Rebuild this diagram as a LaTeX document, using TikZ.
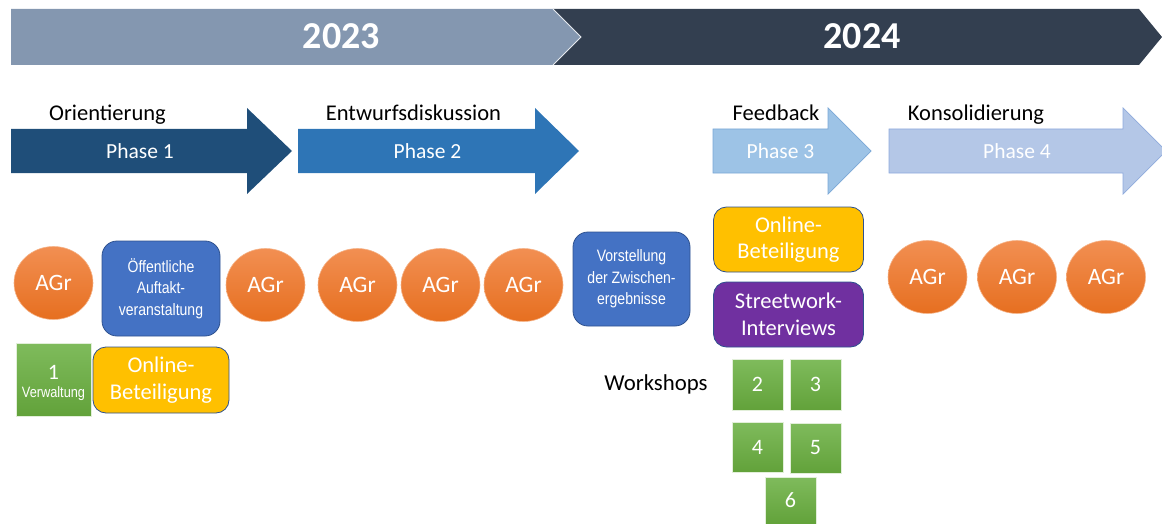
\documentclass[tikz,border=0pt]{standalone}
\usepackage{fontspec}
\setmainfont{Carlito}
\newfontfamily\narrowfont[FakeStretch=0.85]{Liberation Sans}
\usetikzlibrary{shapes.geometric}
\definecolor{banA}{HTML}{8497B0}
\definecolor{banB}{HTML}{333F50}
\definecolor{phA}{HTML}{1F4E79}
\definecolor{phB}{HTML}{2E75B6}
\definecolor{phC}{HTML}{9DC3E6}
\definecolor{phCedge}{HTML}{7AA7D6}
\definecolor{phD}{HTML}{B4C7E7}
\definecolor{phDedge}{HTML}{8FAADC}
\definecolor{agrTop}{HTML}{F28F52}
\definecolor{agrBot}{HTML}{E66F20}
\definecolor{agrEdge}{HTML}{F5B48A}
\definecolor{boxBlue}{HTML}{4472C4}
\definecolor{boxEdge}{HTML}{2F528F}
\definecolor{boxYel}{HTML}{FFC000}
\definecolor{boxPur}{HTML}{7030A0}
\definecolor{sqTop}{HTML}{7FBB5C}
\definecolor{sqBot}{HTML}{62A23A}
\definecolor{sqEdge}{HTML}{E2EFD9}
\begin{document}
\begin{tikzpicture}[x=1pt,y=-1pt,
  yeartext/.style={text=white, font=\bfseries\fontsize{38}{38}\selectfont, anchor=base, inner sep=0pt},
  phlabel/.style={text=black, font=\fontsize{22.5}{22.5}\selectfont, anchor=base, inner sep=0pt},
  phtext/.style={text=white, font=\fontsize{21.5}{21.5}\selectfont, anchor=base, inner sep=0pt},
  agr/.style={ellipse, draw=agrEdge, line width=0.6pt, top color=agrTop, bottom color=agrBot,
    minimum width=79pt, minimum height=73pt, inner sep=0pt, text=white,
    font=\fontsize{23.5}{23.5}\selectfont},
  rbox/.style={rectangle, rounded corners=13pt, draw=boxEdge, line width=0.8pt, inner sep=0pt, align=center},
  bluebox/.style={rbox, fill=boxBlue, text=white, font=\narrowfont\fontsize{16.5}{21.5}\selectfont},
  yelbox/.style={rbox, fill=boxYel, text=white, font=\fontsize{22.5}{26.5}\selectfont},
  purbox/.style={rbox, fill=boxPur, text=white, font=\fontsize{22.5}{26.5}\selectfont},
  wsq/.style={rectangle, top color=sqTop, bottom color=sqBot, draw=sqEdge, line width=0.4pt,
    inner sep=0pt, text=white, font=\fontsize{22}{22}\selectfont},
  plain/.style={text=black, font=\fontsize{22.8}{22.8}\selectfont, inner sep=0pt}
]
\useasboundingbox (0,0) rectangle (1162,524);
% year banner
\fill[banB] (553,9) -- (1139,9) -- (1162,37) -- (1139,65) -- (553,65) -- (581,37) -- cycle;
\fill[banA] (11,9) -- (553,9) -- (581,37) -- (553,65) -- (11,65) -- cycle;
\draw[white!80!banA, line width=0.8pt] (553,9) -- (581,37) -- (553,65);
\node[yeartext] (y23) at (341.5,49) {2023};
\node[yeartext] (y24) at (862,49) {2024};
% phase arrows
\fill[phA] (11,129) -- (247,129) -- (247,108) -- (292,151) -- (247,194) -- (247,173) -- (11,173) -- cycle;
\fill[phB] (298,129) -- (535,129) -- (535,108) -- (579,151) -- (535,194) -- (535,173) -- (298,173) -- cycle;
\filldraw[fill=phC, draw=phCedge, line width=0.7pt] (713,129) -- (828,129) -- (828,108) -- (871,151) -- (828,194) -- (828,173) -- (713,173) -- cycle;
\filldraw[fill=phD, draw=phDedge, line width=0.7pt] (889,129) -- (1123,129) -- (1123,108) -- (1166,151) -- (1123,194) -- (1123,173) -- (889,173) -- cycle;
\node[phlabel] (l1) at (107.5,121) {Orientierung};
\node[phlabel] (l2) at (413.5,121) {Entwurfsdiskussion};
\node[phlabel] (l3) at (776,121) {Feedback};
\node[phlabel] (l4) at (976,121) {Konsolidierung};
\node[phtext] (p1) at (140,158) {Phase 1};
\node[phtext] (p2) at (427.5,158) {Phase 2};
\node[phtext] (p3) at (780.5,158) {Phase 3};
\node[phtext] (p4) at (1017,158) {Phase 4};
% AGr ellipses
\node[agr] (a1) at (53.5,283) {AGr};
\node[agr] (a2) at (265.5,285) {AGr};
\node[agr] (a3) at (357.5,285) {AGr};
\node[agr] (a4) at (440.5,285) {AGr};
\node[agr] (a5) at (523.5,285) {AGr};
\node[agr] (a6) at (927.5,277) {AGr};
\node[agr] (a7) at (1017,277) {AGr};
\node[agr] (a8) at (1106,277) {AGr};
% boxes
\node[bluebox, minimum width=118pt, minimum height=95pt, rounded corners=15pt] (auf) at (161,288.5) {Öffentliche\\Auftakt-\\veranstaltung};
\node[bluebox, minimum width=117pt, minimum height=94pt, rounded corners=15pt] (vor) at (631.5,279) {Vorstellung\\der Zwischen-\\ergebnisse};
\node[yelbox, minimum width=136pt, minimum height=66pt] (on1) at (161,380) {Online-\\Beteiligung};
\node[yelbox, minimum width=150pt, minimum height=65pt] (on2) at (788.5,239.5) {Online-\\Beteiligung};
\node[purbox, minimum width=150pt, minimum height=65pt] (str) at (788.5,314.5) {Streetwork-\\Interviews};
% green squares
\node[wsq, minimum width=75pt, minimum height=73pt] (g1) at (53.5,379.5) {};
\node[text=white, font=\fontsize{22}{22}\selectfont, inner sep=0pt] (g1n) at (53.5,372) {1};
\node[text=white, font=\narrowfont\fontsize{15}{15}\selectfont, inner sep=0pt] (g1t) at (53.5,394) {Verwaltung};
\node[plain] (ws) at (656,384) {Workshops};
\node[wsq, minimum width=51pt, minimum height=51pt] (s2) at (757.5,384.5) {2};
\node[wsq, minimum width=51pt, minimum height=51pt] (s3) at (815.5,384.5) {3};
\node[wsq, minimum width=51pt, minimum height=50pt] (s4) at (757.5,447) {4};
\node[wsq, minimum width=51pt, minimum height=50pt] (s5) at (815.5,448) {5};
\node[wsq, minimum width=51pt, minimum height=47pt] (s6) at (790.5,500.5) {6};
\end{tikzpicture}
\end{document}
